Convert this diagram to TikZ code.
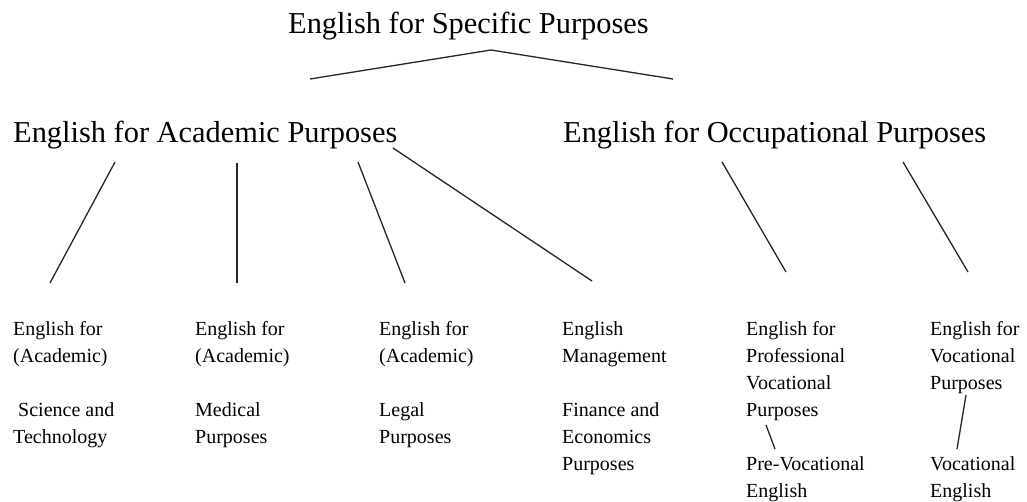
\documentclass[tikz,border=0pt]{standalone}
\usepackage{fontspec}
\setmainfont{Liberation Serif}

\tikzset{
  heading/.style={anchor=base west, inner sep=0pt, font=\fontsize{30.4}{36}\selectfont},
  leaf/.style={anchor=north west, inner sep=0pt, align=left, font=\fontsize{20}{27}\selectfont},
  branch/.style={line width=1.3pt, black!85}
}

\begin{document}
\begin{tikzpicture}[x=1pt,y=-1pt]
    \useasboundingbox (0,0) rectangle (1027,501);
    % headings
    \node [heading] (esp) at (288,33) {English for Specific Purposes};
    \node [heading] (eap) at (13,142) {English for Academic Purposes};
    \node [heading] (eop) at (563,142) {English for Occupational Purposes};
    % leaves
    \node [leaf] (est) at (13,321) {English for\\(Academic)\\[27pt]\hspace*{5pt}Science and\\Technology};
    \node [leaf] (emp) at (195,321) {English for\\(Academic)\\[27pt]Medical\\Purposes};
    \node [leaf] (elp) at (379,321) {English for\\(Academic)\\[27pt]Legal\\Purposes};
    \node [leaf] (efe) at (562,321) {English\\Management\\[27pt]Finance and\\Economics\\Purposes};
    \node [leaf] (epvp) at (746,321) {English for\\Professional\\Vocational\\Purposes};
    \node [leaf] (evp) at (930,321) {English for\\Vocational\\Purposes};
    \node [leaf] (prev) at (746,456) {Pre-Vocational\\English};
    \node [leaf] (voc) at (930,456) {Vocational\\English};
    % line ends
    \coordinate (espA) at (491,50);
    \coordinate (espL) at (310,79);
    \coordinate (espR) at (673,79);
    \coordinate (eap1) at (115,162);
    \coordinate (eap2) at (237,163);
    \coordinate (eap3) at (358,162);
    \coordinate (eap4) at (393,148);
    \coordinate (est1) at (50,283);
    \coordinate (emp1) at (237,283);
    \coordinate (elp1) at (405,283);
    \coordinate (efe1) at (592,281);
    \coordinate (eop1) at (722,162);
    \coordinate (eop2) at (903,162);
    \coordinate (epvp1) at (786,272);
    \coordinate (evp1) at (968,272);
    \coordinate (epvp2) at (766,425);
    \coordinate (prev1) at (775,449);
    \coordinate (evp2) at (966,395);
    \coordinate (voc1) at (957,449);
    % connectors
    \draw [branch] (espL) -- (espA) -- (espR);
    \draw [branch] (eap1) -- (est1);
    \draw [branch] (eap2) -- (emp1);
    \draw [branch] (eap3) -- (elp1);
    \draw [branch] (eap4) -- (efe1);
    \draw [branch] (eop1) -- (epvp1);
    \draw [branch] (eop2) -- (evp1);
    \draw [branch] (epvp2) -- (prev1);
    \draw [branch] (evp2) -- (voc1);
\end{tikzpicture}
\end{document}
